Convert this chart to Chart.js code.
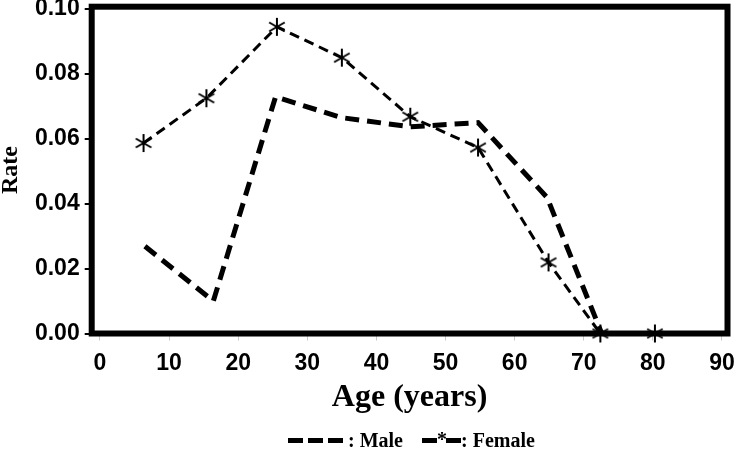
<!DOCTYPE html>
<html>
<head>
<meta charset="utf-8">
<script src="https://cdn.jsdelivr.net/npm/chart.js@4"></script>
<style>
  html, body { margin: 0; padding: 0; background: #fff; }
  #wrap { width: 734px; height: 450px; }
</style>
</head>
<body>
<div id="wrap"><canvas id="rateChart" width="734" height="450"></canvas></div>
<script>
// ── DATA ──
const maleAges    = [6.5, 16.4, 25.4, 35.0, 44.9, 54.7, 64.7, 72.6];
const maleRates   = [0.0269, 0.0100, 0.0729, 0.0665, 0.0637, 0.0650, 0.0419, 0.0];
const femaleAges  = [6.3, 15.4, 25.6, 35.0, 44.9, 54.7, 64.9, 72.4, 80.3];
const femaleRates = [0.0587, 0.0725, 0.0945, 0.0850, 0.0668, 0.0573, 0.0219, 0.0, 0.0];
const xTickValues = [0, 10, 20, 30, 40, 50, 60, 70, 80, 90];
const yTickValues = [0, 0.02, 0.04, 0.06, 0.08, 0.10];
const xTitle = 'Age (years)';
const yTitle = 'Rate';
const legendMale = ': Male';
const legendFemale = ': Female';

// ── asterisk marker (6 arms) ──
function makeAsterisk() {
  const c = document.createElement('canvas');
  c.width = 22; c.height = 22;
  const g = c.getContext('2d');
  g.strokeStyle = '#000';
  g.lineWidth = 2;
  const r = 9;
  [90, 30, 150].forEach(deg => {
    const a = deg * Math.PI / 180;
    g.beginPath();
    g.moveTo(11 - r * Math.cos(a), 11 - r * Math.sin(a));
    g.lineTo(11 + r * Math.cos(a), 11 + r * Math.sin(a));
    g.stroke();
  });
  return c;
}
const star = makeAsterisk();

const toPoints = (xs, ys) => xs.map((x, i) => ({ x: x, y: ys[i] }));

// ── frame + legend ──
const framePlugin = {
  id: 'frame',
  beforeDatasetsDraw(chart) {
    const { ctx, chartArea: a } = chart;
    ctx.save();
    ctx.strokeStyle = '#000';
    ctx.lineWidth = 6;
    ctx.strokeRect(a.left, a.top, a.right - a.left, a.bottom - a.top);
    ctx.restore();
  },
  afterDraw(chart) {
    const ctx = chart.ctx;
    ctx.save();
    ctx.fillStyle = '#000';
    // male key: three heavy dashes
    [288, 308, 328].forEach(x => ctx.fillRect(x, 438, 15, 5));
    ctx.font = 'bold 20px "Liberation Serif"';
    ctx.textBaseline = 'alphabetic';
    ctx.fillText(legendMale, 348, 447);
    // female key: dash * dash
    ctx.fillRect(422, 438, 15, 5);
    ctx.fillRect(446, 438, 15, 5);
    ctx.fillText('*', 437, 446);
    ctx.fillText(legendFemale, 461, 447);
    ctx.restore();
  }
};

const tickFont = { family: '"Liberation Sans", Arial, sans-serif', size: 23, weight: 'bold' };

new Chart(document.getElementById('rateChart'), {
  type: 'line',
  data: {
    datasets: [
      {
        label: 'Male',
        data: toPoints(maleAges, maleRates),
        borderColor: '#000',
        borderWidth: 5,
        borderDash: [14, 8],
        pointRadius: 0,
        tension: 0,
        fill: false,
        clip: false
      },
      {
        label: 'Female',
        data: toPoints(femaleAges, femaleRates),
        borderColor: '#000',
        borderWidth: 3,
        borderDash: [10, 6],
        pointStyle: star,
        pointRadius: 9,
        tension: 0,
        fill: false,
        clip: false
      }
    ]
  },
  options: {
    responsive: false,
    animation: false,
    devicePixelRatio: 1,
    layout: { autoPadding: false, padding: { top: 6.7, right: 6.5, left: 0, bottom: 0 } },
    plugins: { legend: { display: false }, tooltip: { enabled: false } },
    scales: {
      x: {
        type: 'linear',
        min: -1.2,
        max: 90.8,
        afterBuildTicks: s => { s.ticks = xTickValues.map(v => ({ value: v })); },
        afterFit: s => { s.height = 116.5; s.paddingLeft = 0; s.paddingRight = 0; },
        ticks: { color: '#000', font: tickFont, padding: 9.5, maxRotation: 0, autoSkip: false, callback: v => String(v) },
        grid: { drawOnChartArea: false, drawTicks: true, tickLength: 7, color: '#c8c8c8', lineWidth: 1 },
        border: { display: false },
        title: {
          display: true,
          text: xTitle,
          color: '#000',
          font: { family: '"Liberation Serif", "Times New Roman", serif', size: 32, weight: 'bold', lineHeight: 1 },
          padding: { top: 0, bottom: 36 }
        }
      },
      y: {
        min: 0,
        max: 0.1007,
        afterBuildTicks: s => { s.ticks = yTickValues.map(v => ({ value: v })); },
        afterFit: s => { s.width = 91.7; s.paddingTop = 0; s.paddingBottom = 0; },
        ticks: { color: '#000', font: tickFont, padding: 5, autoSkip: false, callback: v => v.toFixed(2) },
        grid: { drawOnChartArea: false, drawTicks: true, tickLength: 7, color: '#000', lineWidth: 2 },
        border: { display: false },
        title: {
          display: true,
          text: yTitle,
          color: '#000',
          font: { family: '"Liberation Serif", "Times New Roman", serif', size: 24, weight: 'bold', lineHeight: 0.9 },
          padding: 0
        }
      }
    }
  },
  plugins: [framePlugin]
});
</script>
</body>
</html>
